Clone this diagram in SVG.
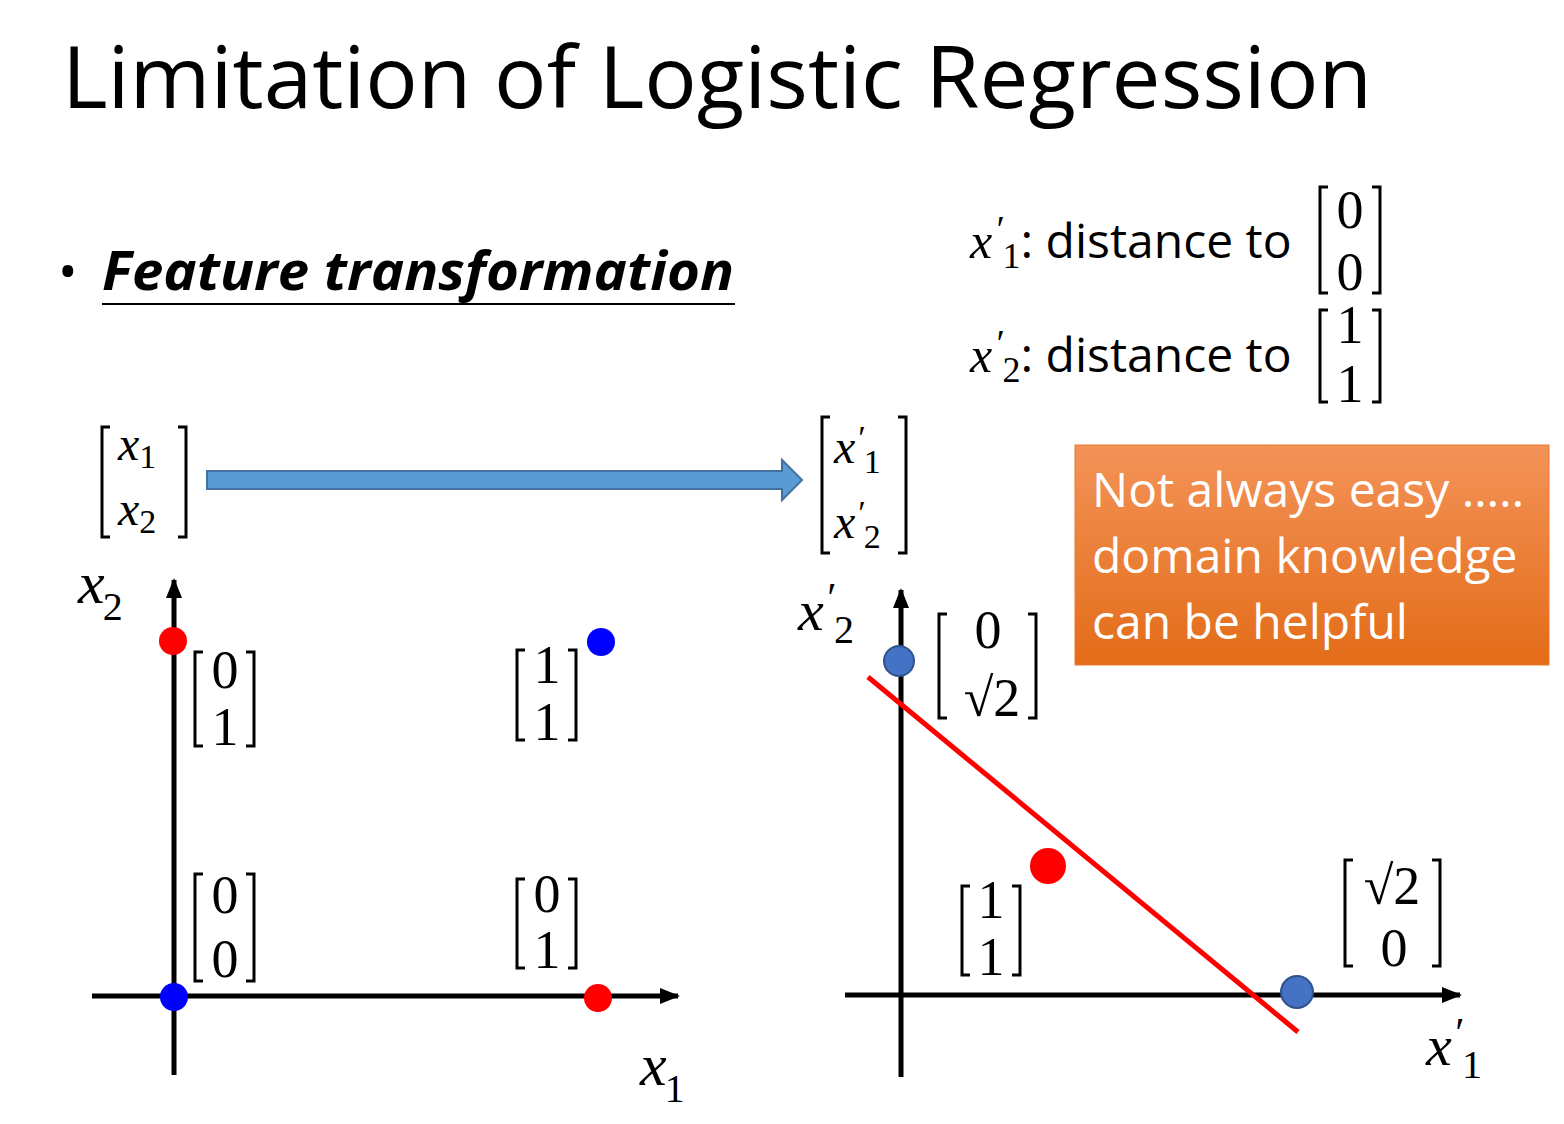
<svg xmlns="http://www.w3.org/2000/svg" width="1564" height="1124" viewBox="0 0 1564 1124">
<style>
.s{font-family:"Open Sans","Liberation Sans",sans-serif}
.m{font-family:"Liberation Serif",serif;font-size:54px;text-anchor:middle}
.v{font-family:"Liberation Serif",serif;font-style:italic}
.n{font-style:normal}
.b{fill:none;stroke:#000;stroke-width:3}
.ax{stroke:#000;stroke-width:5;fill:none}
</style>
<defs>
<linearGradient id="og" x1="0" y1="0" x2="0" y2="1"><stop offset="0" stop-color="#F39358"/><stop offset="1" stop-color="#E36C18"/></linearGradient>
<marker id="ah" viewBox="0 0 10 10" refX="9" refY="5" markerWidth="4" markerHeight="4" orient="auto" markerUnits="strokeWidth"><path d="M0,1 L10,5 L0,9 z" fill="#000"/></marker>
</defs>
<rect width="1564" height="1124" fill="#fff"/>
<text class="s" x="62" y="108" font-size="86" textLength="1310" lengthAdjust="spacingAndGlyphs">Limitation of Logistic Regression</text>
<text class="s" x="58" y="290" font-size="52">•</text>
<text class="s" x="102" y="290" font-size="54" font-weight="bold" font-style="italic" textLength="632" lengthAdjust="spacingAndGlyphs">Feature transformation</text>
<line x1="102" y1="304" x2="735" y2="304" stroke="#000" stroke-width="2"/>

<g id="def1"><text class="v" x="970" y="258" font-size="50">x<tspan dx="2" dy="-16" font-size="38">′</tspan><tspan class="n" dx="0" dy="26" font-size="36">1</tspan><tspan class="s n" dy="-10" font-size="48">: distance to</tspan></text>
<path class="b" d="M1328,187 H1320 V293 H1328 M1372,187 H1380 V293 H1372"/><text class="m" x="1350" y="228">0</text><text class="m" x="1350" y="290">0</text></g>
<g id="def2"><text class="v" x="970" y="372" font-size="50">x<tspan dx="2" dy="-16" font-size="38">′</tspan><tspan class="n" dx="0" dy="26" font-size="36">2</tspan><tspan class="s n" dy="-10" font-size="48">: distance to</tspan></text>
<path class="b" d="M1328,310 H1320 V402 H1328 M1372,310 H1380 V402 H1372"/><text class="m" x="1350" y="343">1</text><text class="m" x="1350" y="402">1</text></g>

<g id="vec_in"><path class="b" d="M110,427 H102 V537 H110 M178,427 H186 V537 H178"/>
<text class="v" x="118" y="460" font-size="48">x<tspan class="n" dy="8" font-size="34">1</tspan></text>
<text class="v" x="118" y="525" font-size="48">x<tspan class="n" dy="8" font-size="34">2</tspan></text></g>
<g id="vec_out"><path class="b" d="M830,417 H822 V553 H830 M898,417 H906 V553 H898"/>
<text class="v" x="834" y="463" font-size="48">x<tspan dx="1" dy="-14" font-size="34">′</tspan><tspan class="n" dx="0" dy="24" font-size="34">1</tspan></text>
<text class="v" x="834" y="538" font-size="48">x<tspan dx="1" dy="-14" font-size="34">′</tspan><tspan class="n" dx="0" dy="24" font-size="34">2</tspan></text></g>

<g id="connectors">
<path d="M207,471 H782 V460 L802,480 L782,500 V489 H207 Z" fill="#5B9BD5" stroke="#41719C" stroke-width="2"/>
<line class="ax" x1="92" y1="996" x2="678" y2="996" marker-end="url(#ah)"/>
<line class="ax" x1="174" y1="1075" x2="174" y2="580" marker-end="url(#ah)"/>
<line class="ax" x1="845" y1="995" x2="1460" y2="995" marker-end="url(#ah)"/>
<line class="ax" x1="901" y1="1077" x2="901" y2="590" marker-end="url(#ah)"/>
<line x1="868" y1="677" x2="1298" y2="1032" stroke="#FF0000" stroke-width="5"/>
</g>

<g id="box"><rect x="1075" y="445" width="474" height="220" fill="url(#og)" stroke="#E87A30" stroke-width="1"/>
<text class="s" x="1092" y="507" font-size="48" fill="#fff">Not always easy …..</text>
<text class="s" x="1092" y="573" font-size="48" fill="#fff">domain knowledge</text>
<text class="s" x="1092" y="639" font-size="48" fill="#fff">can be helpful</text></g>

<g id="left_plot">
<text class="v" x="78" y="603" font-size="60">x<tspan class="n" dx="-2" dy="17" font-size="40">2</tspan></text>
<text class="v" x="640" y="1085" font-size="60">x<tspan class="n" dx="-2" dy="17" font-size="40">1</tspan></text>
<circle cx="173" cy="641" r="14" fill="#FF0000"/><circle cx="601" cy="642" r="14" fill="#0000FF"/>
<circle cx="174" cy="997" r="14" fill="#0000FF"/><circle cx="598" cy="998" r="14" fill="#FF0000"/>
<path class="b" d="M203,652 H195 V746 H203 M246,652 H254 V746 H246"/><text class="m" x="225" y="688">0</text><text class="m" x="225" y="745">1</text>
<path class="b" d="M525,650 H517 V740 H525 M568,650 H576 V740 H568"/><text class="m" x="547" y="683">1</text><text class="m" x="547" y="740">1</text>
<path class="b" d="M203,874 H195 V981 H203 M246,874 H254 V981 H246"/><text class="m" x="225" y="913">0</text><text class="m" x="225" y="977">0</text>
<path class="b" d="M525,879 H517 V968 H525 M568,879 H576 V968 H568"/><text class="m" x="547" y="912">0</text><text class="m" x="547" y="968">1</text>
</g>

<g id="right_plot">
<text class="v" x="798" y="630" font-size="58">x<tspan dx="1" dy="-18" font-size="42">′</tspan><tspan class="n" dx="0" dy="31" font-size="40">2</tspan></text>
<text class="v" x="1426" y="1065" font-size="58">x<tspan dx="1" dy="-18" font-size="42">′</tspan><tspan class="n" dx="0" dy="31" font-size="40">1</tspan></text>
<circle cx="899" cy="661" r="15" fill="#4472C4" stroke="#2F528F" stroke-width="2"/>
<circle cx="1048" cy="866" r="18" fill="#FF0000"/>
<circle cx="1297" cy="992" r="16" fill="#4472C4" stroke="#2F528F" stroke-width="2"/>
<path class="b" d="M947,614 H939 V718 H947 M1028,614 H1036 V718 H1028"/><text class="m" x="988" y="648">0</text><text class="m" x="992" y="716">√2</text>
<path class="b" d="M970,886 H962 V975 H970 M1012,886 H1020 V975 H1012"/><text class="m" x="991" y="918">1</text><text class="m" x="991" y="975">1</text>
<path class="b" d="M1353,860 H1345 V966 H1353 M1432,860 H1440 V966 H1432"/><text class="m" x="1392" y="904">√2</text><text class="m" x="1394" y="966">0</text>
</g>
</svg>
